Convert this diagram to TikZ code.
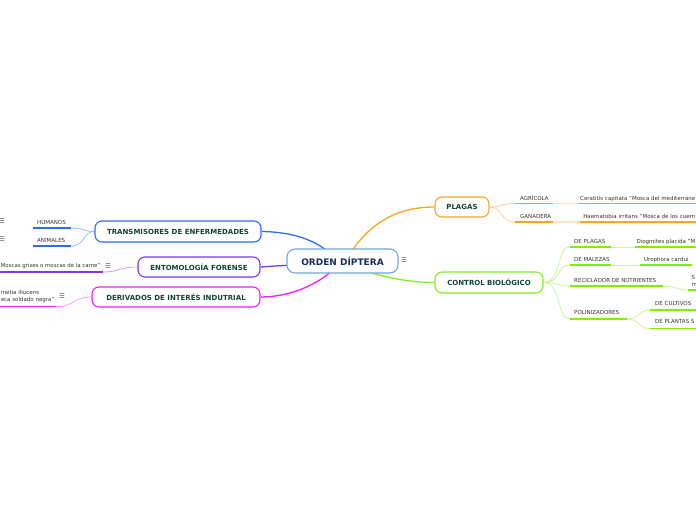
\documentclass[tikz,border=0pt]{standalone}
\usepackage{fontspec}
\setmainfont{DejaVu Sans}
\usetikzlibrary{backgrounds}
\definecolor{centerb}{HTML}{6FA8DC}
\definecolor{centertext}{HTML}{1C2E5A}
\definecolor{maintext}{HTML}{164335}
\definecolor{leaftext}{HTML}{333333}
\definecolor{icon}{HTML}{555555}
\definecolor{cblue}{HTML}{2E6BF0}
\definecolor{lblue}{HTML}{9DB8F5}
\definecolor{cpurple}{HTML}{8033F0}
\definecolor{lpurple}{HTML}{C4A3F7}
\definecolor{cmag}{HTML}{F01EF0}
\definecolor{lmag}{HTML}{F8A0F8}
\definecolor{corange}{HTML}{F9A525}
\definecolor{lorange}{HTML}{FCD29A}
\definecolor{xlorange}{HTML}{FDE6C8}
\definecolor{cgreen}{HTML}{84EE22}
\definecolor{ulgreen}{HTML}{7FF000}
\definecolor{lgreen}{HTML}{C8F5A0}
\begin{document}
\begin{tikzpicture}[x=1pt,y=-1pt,
  mainbox/.style={draw, fill=white, rounded corners=7pt, line width=1.1pt,
    font=\fontsize{7}{8}\selectfont\bfseries, text=maintext, inner sep=0pt, minimum height=20pt},
  leaf/.style={inner sep=0pt, font=\fontsize{5.5}{7}\selectfont, text=leaftext, anchor=base west},
  menu/.style={inner sep=0pt, font=\fontsize{6.5}{7}\selectfont, text=icon},
  ul/.style={line width=1.8pt},
  conn/.style={line width=0.8pt},
  bigconn/.style={line width=1.3pt}]
\path[use as bounding box] (0,0) rectangle (696,520);
\clip (0,0) rectangle (696,520);

% main nodes
\node[mainbox, draw=centerb, text=centertext, minimum width=111pt, minimum height=24pt,
  rounded corners=8pt, font=\fontsize{9}{10}\selectfont\bfseries] (c) at (342.5,261) {ORDEN DÍPTERA};
\node[menu] (cm) at (404,260.5) {☰};
\node[mainbox, draw=cblue, minimum width=166pt, minimum height=21pt] (tr) at (178,231.5) {TRANSMISORES DE ENFERMEDADES};
\node[mainbox, draw=cpurple, minimum width=122pt] (en) at (199,267) {ENTOMOLOGÍA FORENSE};
\node[mainbox, draw=cmag, minimum width=168pt] (de) at (176,297) {DERIVADOS DE INTERÉS INDUTRIAL};
\node[mainbox, draw=corange, minimum width=54pt] (pl) at (462,207) {PLAGAS};
\node[mainbox, draw=cgreen, minimum width=108pt, minimum height=21pt] (cb) at (489,282.5) {CONTROL BIOLÓGICO};

% anchor points on the central node
\coordinate (cTL) at (326,250);
\coordinate (cL) at (287.5,265.5);
\coordinate (cBL) at (330,272.5);
\coordinate (cT) at (353,249.5);
\coordinate (cBR) at (370,272.5);

% left leaves
\node[leaf] (hum) at (37,224) {HUMANOS};
\node[menu] (humm) at (2,221) {☰};
\coordinate (hum1) at (33,228); \coordinate (hum2) at (71,228);
\node[leaf] (ani) at (37,242) {ANIMALES};
\node[menu] (anim) at (2,239) {☰};
\coordinate (ani1) at (33,246); \coordinate (ani2) at (71,246);
\node[leaf, font=\fontsize{5.4}{7}\selectfont] (mos) at (0.6,267.5) {Moscas grises o moscas de la carne"};
\node[menu] (mosm) at (108,266) {☰};
\coordinate (mos1) at (-2,272); \coordinate (mos2) at (103,272);
\node[leaf] (hera) at (0.6,294) {metia illucens};
\node[leaf] (herb) at (0.6,301.5) {eca soldado negra"};
\node[menu] (herm) at (62,296) {☰};
\coordinate (her1) at (-2,306.5); \coordinate (her2) at (56,306.5);

% right leaves: plagas
\node[leaf] (agr) at (520,200) {AGRÍCOLA};
\coordinate (agr1) at (515,203.5); \coordinate (agr2) at (553,203.5);
\coordinate (agr3) at (578,203.5); \coordinate (agr4) at (700,203.5);
\node[leaf, anchor=base east] (cer) at (695.5,200) {Ceratitis capitata "Mosca del mediterráne};
\node[leaf] (gan) at (520,218) {GANADERA};
\coordinate (gan1) at (515,222); \coordinate (gan2) at (553,222);
\coordinate (gan3) at (580,222); \coordinate (gan4) at (700,222);
\node[leaf, anchor=base east] (hae) at (695.5,218) {Haematobia irritans "Mosca de los cuern};

% right leaves: control biologico
\node[leaf] (dpl) at (574,243) {DE PLAGAS};
\coordinate (dpl1) at (570,247); \coordinate (dpl2) at (611,247);
\coordinate (dpl3) at (635,247); \coordinate (dpl4) at (700,247);
\node[leaf, anchor=base east] (dio) at (695.5,243) {Diogmites placida "M};
\node[leaf] (dma) at (574,261) {DE MALEZAS};
\coordinate (dma1) at (570,265); \coordinate (dma2) at (611,265);
\coordinate (dma3) at (640,265); \coordinate (dma4) at (692,265);
\node[leaf] (uro) at (644,261) {Urophora cardui};
\node[leaf] (rec) at (574,282) {RECICLADOR DE NUTRIENTES};
\coordinate (rec1) at (570,286); \coordinate (rec2) at (663,286);
\coordinate (sm1) at (688,290); \coordinate (sm2) at (700,290);
\node[leaf] (sa) at (691.5,279) {S};
\node[leaf] (ma) at (691.5,286.5) {m};
\node[leaf] (pol) at (574,314.5) {POLINIZADORES};
\coordinate (pol1) at (570,319); \coordinate (pol2) at (627,319);
\node[leaf] (cul) at (655,305.5) {DE CULTIVOS};
\coordinate (cul1) at (650,310); \coordinate (cul2) at (700,310);
\node[leaf] (pla) at (655,323.5) {DE PLANTAS S};
\coordinate (pla1) at (650,328.5); \coordinate (pla2) at (700,328.5);

\begin{scope}[on background layer]
% main connectors
\draw[bigconn, cblue] (tr.east) .. controls (295,232) and (314,241) .. (cTL);
\draw[bigconn, cpurple] (en.east) .. controls (270,266.5) and (278,265.5) .. (cL);
\draw[bigconn, cmag] (de.east) .. controls (292,297) and (318,283) .. (cBL);
\draw[bigconn, corange] (cT) .. controls (372,222) and (398,207) .. (pl.west);
\draw[bigconn, cgreen] (cBR) .. controls (392,279) and (414,282.5) .. (cb.west);

% left sub-branches
\draw[ul, cblue] (hum1) -- (hum2);
\draw[ul, cblue] (ani1) -- (ani2);
\draw[conn, lblue] (hum2) .. controls (84,228) and (84,231.5) .. (tr.west);
\draw[conn, lblue] (ani2) .. controls (86,246) and (82,231.5) .. (tr.west);
\draw[ul, cpurple] (mos1) -- (mos2);
\draw[conn, lpurple] (mos2) .. controls (120,272) and (118,267) .. (en.west);
\draw[ul, cmag] (her1) -- (her2);
\draw[conn, lmag] (her2) .. controls (76,306.5) and (72,297) .. (de.west);

% plagas sub-branches
\draw[conn, lorange] (pl.east) .. controls (503,207) and (500,203.5) .. (agr1);
\draw[conn, lorange] (pl.east) .. controls (503,207) and (500,222) .. (gan1);
\draw[ul, corange] (agr1) -- (agr2);
\draw[ul, xlorange] (agr2) -- (agr3);
\draw[ul, corange] (agr3) -- (agr4);
\draw[ul, corange] (gan1) -- (gan2);
\draw[ul, xlorange] (gan2) -- (gan3);
\draw[ul, corange] (gan3) -- (gan4);

% control biologico sub-branches
\draw[conn, lgreen] (cb.east) .. controls (562,282.5) and (556,247) .. (dpl1);
\draw[conn, lgreen] (cb.east) .. controls (562,282.5) and (556,265) .. (dma1);
\draw[conn, lgreen] (cb.east) .. controls (558,282.5) and (558,286) .. (rec1);
\draw[conn, lgreen] (cb.east) .. controls (562,282.5) and (556,319) .. (pol1);
\draw[ul, ulgreen] (dpl1) -- (dpl2);
\draw[conn, lgreen] (dpl2) -- (dpl3);
\draw[ul, ulgreen] (dpl3) -- (dpl4);
\draw[ul, ulgreen] (dma1) -- (dma2);
\draw[conn, lgreen] (dma2) -- (dma3);
\draw[ul, ulgreen] (dma3) -- (dma4);
\draw[ul, ulgreen] (rec1) -- (rec2);
\draw[conn, lgreen] (rec2) .. controls (676,286) and (676,290) .. (sm1);
\draw[ul, ulgreen] (sm1) -- (sm2);
\draw[ul, ulgreen] (pol1) -- (pol2);
\draw[conn, lgreen] (pol2) .. controls (640,319) and (638,310) .. (cul1);
\draw[conn, lgreen] (pol2) .. controls (640,319) and (638,328.5) .. (pla1);
\draw[ul, ulgreen] (cul1) -- (cul2);
\draw[ul, ulgreen] (pla1) -- (pla2);
\end{scope}
\end{tikzpicture}
\end{document}
